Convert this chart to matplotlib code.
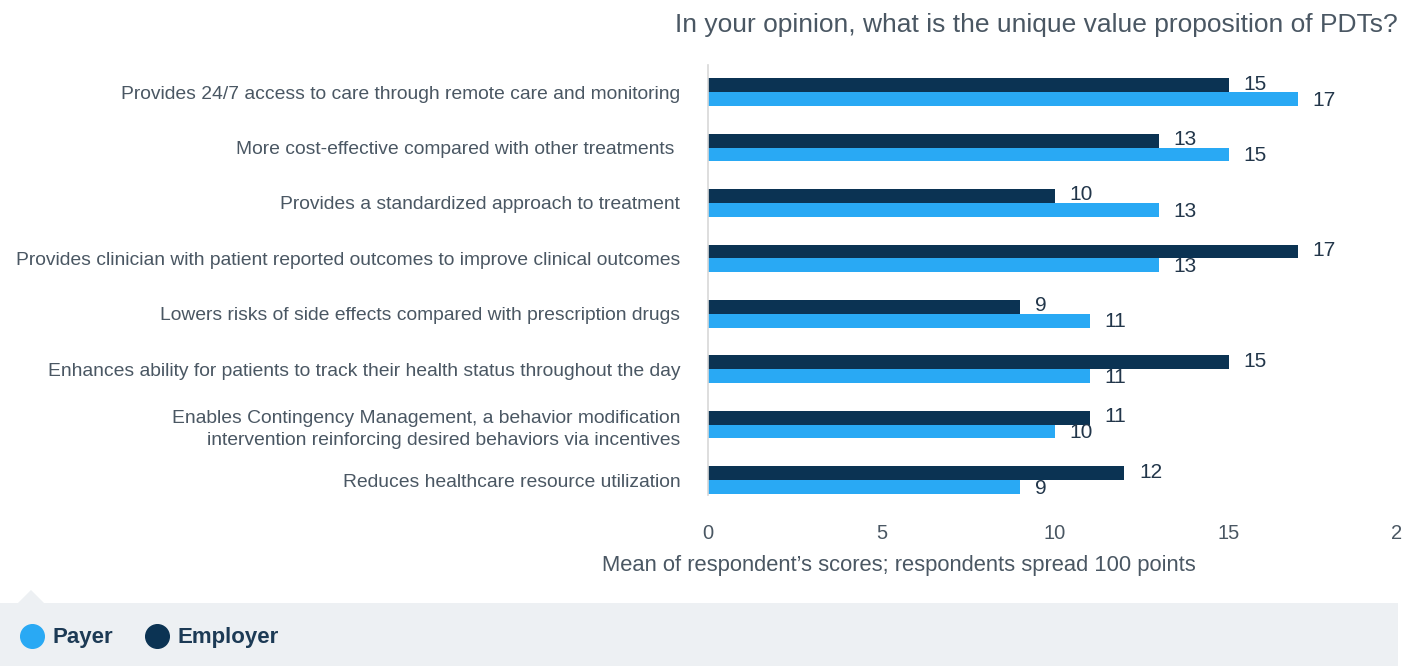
import matplotlib
matplotlib.use('Agg')
import numpy as np
import matplotlib.pyplot as plt
from matplotlib.patches import Rectangle, Polygon
from matplotlib.lines import Line2D

plt.rcParams['font.family'] = ['Liberation Sans', 'DejaVu Sans']

# data
categories = [
    'Provides 24/7 access to care through remote care and monitoring',
    'More cost-effective compared with other treatments ',
    'Provides a standardized approach to treatment',
    'Provides clinician with patient reported outcomes to improve clinical outcomes',
    'Lowers risks of side effects compared with prescription drugs',
    'Enhances ability for patients to track their health status throughout the day',
    'Enables Contingency Management, a behavior modification\nintervention reinforcing desired behaviors via incentives',
    'Reduces healthcare resource utilization',
]
payer = [17, 15, 13, 13, 11, 11, 10, 9]
employer = [15, 13, 10, 17, 9, 15, 11, 12]
x_ticks = [0, 5, 10, 15, 20]

payer_color = '#29a9f4'
employer_color = '#0b3353'
text_color = '#4a5763'
num_color = '#22364a'

W, H = 1402, 666
fig = plt.figure(figsize=(W / 100, H / 100), dpi=100)
ax = fig.add_axes([708 / W, 1 - 495 / H, 1 - 708 / W, (495 - 65) / H])

y = np.arange(len(categories))
h = 0.25
ax.barh(y - h / 2, employer, height=h, color=employer_color)
ax.barh(y + h / 2, payer, height=h, color=payer_color)

for i in range(len(categories)):
    ax.text(employer[i] + 0.42, y[i] - h / 2 - 0.02, str(employer[i]), va='center',
            ha='left', fontsize=15, color=num_color)
    ax.text(payer[i] + 0.42, y[i] + h / 2 + 0.02, str(payer[i]), va='center',
            ha='left', fontsize=15, color=num_color)

ax.set_xlim(0, 20)
ax.set_ylim(7.27, -0.49)
ax.set_xticks(x_ticks)
ax.set_xticklabels([str(t) for t in x_ticks])
ax.set_yticks(y)
ax.set_yticklabels(categories, fontsize=13.9, color=text_color)
ax.tick_params(axis='y', length=0, pad=20)
ax.tick_params(axis='x', length=0, pad=21, labelsize=14.5, labelcolor=text_color)
for lbl in ax.get_yticklabels():
    lbl.set_multialignment('right')
    lbl.set_linespacing(1.45)

for s in ['top', 'right', 'bottom']:
    ax.spines[s].set_visible(False)
ax.spines['left'].set_color('#d8d8d8')
ax.spines['left'].set_linewidth(1.2)

fig.text(899 / W, 1 - 565 / H, 'Mean of respondent\u2019s scores; respondents spread 100 points',
         ha='center', va='center', fontsize=15.8, color=text_color)
fig.text(1398 / W, 1 - 25 / H, 'In your opinion, what is the unique value proposition of PDTs?',
         ha='right', va='center', fontsize=19, color=text_color)

# legend band
band = '#edf0f3'
fig.add_artist(Rectangle((0, 0), 1398 / W, (H - 603) / H, transform=fig.transFigure,
                         facecolor=band, edgecolor='none'))
fig.add_artist(Polygon([(18 / W, 1 - 603 / H), (31 / W, 1 - 590 / H), (44 / W, 1 - 603 / H)],
                       closed=True, transform=fig.transFigure, facecolor=band, edgecolor='none'))
for xc, col, name in [(32, payer_color, 'Payer'), (157, employer_color, 'Employer')]:
    fig.add_artist(Line2D([xc / W], [1 - 636 / H], marker='o', markersize=17,
                          color=col, transform=fig.transFigure, linestyle='none'))
    fig.text((xc + 20) / W, 1 - 637 / H, name, ha='left', va='center',
             fontsize=16, fontweight='bold', color='#1c3a55')

fig.savefig('out.png', dpi=100)
